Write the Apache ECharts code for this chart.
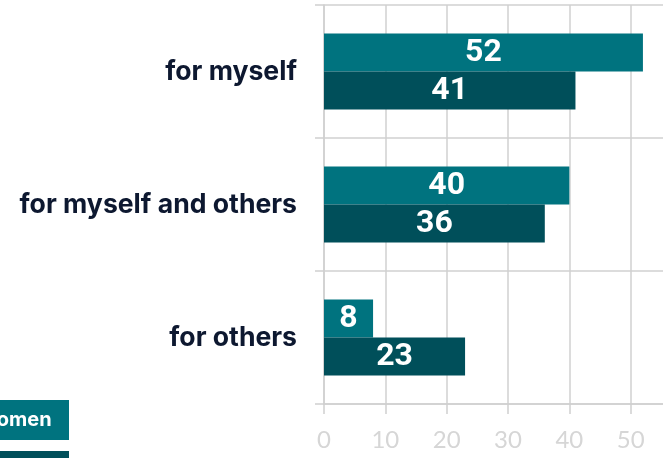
<!DOCTYPE html>
<html>
<head>
<meta charset="utf-8">
<script src="https://cdn.jsdelivr.net/npm/echarts@6/dist/echarts.min.js"></script>
<style>
  html, body { margin: 0; padding: 0; background: #fff; }
  #chart { width: 663px; height: 458px; }
</style>
</head>
<body>
<div id="chart"></div>
<script>
const categories = ['for myself', 'for myself and others', 'for others']
const seriesNames = ['Women', 'Men']
const womenValues = [52, 40, 8]
const menValues = [41, 36, 23]
const tickLabels = [0, 10, 20, 30, 40, 50, 60]

const gridColor = '#d0d0d0'
const colors = ['#00737f', '#004f5a']

const chart = echarts.init(document.getElementById('chart'))

const barLabel = {
  show: true,
  position: 'inside',
  color: '#fff',
  fontFamily: 'Roboto',
  fontWeight: 'bold',
  fontSize: 32
}

chart.setOption({
  animation: false,
  grid: {
    left: 324,
    width: 368,
    top: 5,
    bottom: 54,
    outerBoundsMode: 'none'
  },
  legend: {
    orient: 'vertical',
    left: -40,
    top: 400,
    height: 120,
    padding: 0,
    itemGap: 11,
    itemWidth: 0,
    itemHeight: 0,
    selectedMode: false,
    data: seriesNames.map((name, i) => ({
      name: name,
      icon: 'rect',
      textStyle: {
        color: '#fff',
        fontFamily: 'Inter',
        fontWeight: 'bold',
        fontSize: 20,
        lineHeight: 20,
        backgroundColor: colors[i],
        width: 73,
        padding: [10, 19, 10, 12]
      }
    }))
  },
  xAxis: {
    type: 'value',
    min: 0,
    max: 60,
    interval: 10,
    axisLine: { show: true, lineStyle: { color: gridColor, width: 1.5 } },
    axisTick: { show: true, length: 10, lineStyle: { color: gridColor, width: 1.5 } },
    splitLine: { show: true, lineStyle: { color: gridColor, width: 1.5 } },
    axisLabel: {
      margin: 24,
      color: '#d6d6d6',
      fontFamily: 'Lato',
      fontSize: 24,
      formatter: function (v) { return tickLabels.indexOf(v) >= 0 ? String(v) : '' }
    }
  },
  yAxis: {
    type: 'category',
    inverse: true,
    data: categories,
    axisLine: { show: true, lineStyle: { color: gridColor, width: 1.5 } },
    axisTick: { show: true, length: 9, lineStyle: { color: gridColor, width: 1.5 } },
    splitLine: { show: true, lineStyle: { color: gridColor, width: 1.5 } },
    axisLabel: {
      margin: 27,
      color: '#0d1830',
      fontFamily: 'Inter',
      fontWeight: 'bold',
      fontSize: 26.6,
      padding: [18, 0, 0, 0]
    }
  },
  series: [
    {
      name: seriesNames[0],
      type: 'bar',
      barWidth: 38,
      barGap: '0%',
      itemStyle: { color: colors[0] },
      label: barLabel,
      data: womenValues
    },
    {
      name: seriesNames[1],
      type: 'bar',
      barWidth: 38,
      barGap: '0%',
      itemStyle: { color: colors[1] },
      label: barLabel,
      data: menValues
    }
  ]
})
</script>
</body>
</html>
